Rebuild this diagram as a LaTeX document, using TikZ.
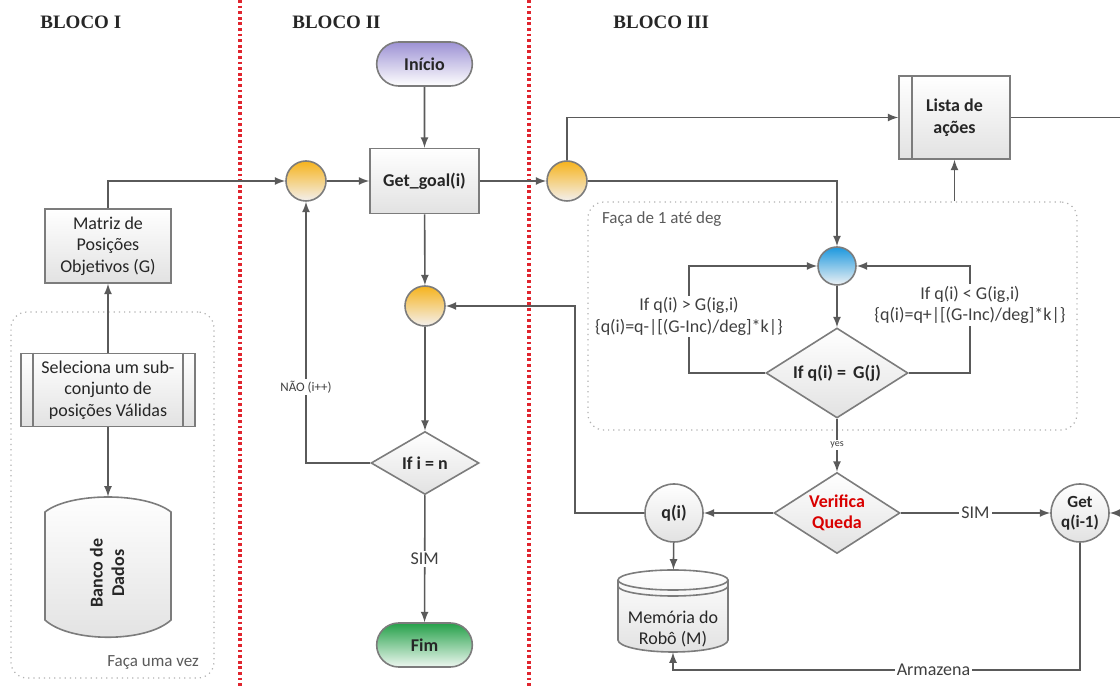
\documentclass[tikz,border=0pt]{standalone}
\usepackage{fontspec}
\setmainfont{Carlito}
\newfontfamily\blocofont{Liberation Serif}
\usepackage{tikz}
\usetikzlibrary{shapes}
\usetikzlibrary{shapes.misc}
\definecolor{linegray}{HTML}{5A5A5A}
\definecolor{bordergray}{HTML}{7C7C7C}
\definecolor{boxgray}{HTML}{E2E2E2}
\definecolor{textdark}{HTML}{262626}
\definecolor{orangetop}{HTML}{F6B31C}
\definecolor{orangebot}{HTML}{F3F0EE}
\definecolor{bluetop}{HTML}{1C98DE}
\definecolor{bluebot}{HTML}{EDF1F4}
\definecolor{inicioc}{HTML}{9D92D4}
\definecolor{fimc}{HTML}{25A049}
\definecolor{blocored}{HTML}{E0252E}
\definecolor{loopgray}{HTML}{B0B0B0}

\begin{document}
\begin{tikzpicture}[x=0.5pt, y=-0.5pt, font=\fontsize{9}{10.75}\selectfont, text=textdark,
  box/.style={draw=bordergray, line width=0.8pt, top color=white, bottom color=boxgray, align=center, inner sep=1pt},
  term/.style={rounded rectangle, draw=bordergray, line width=0.8pt, minimum width=54.5pt, minimum height=22pt, font=\fontsize{9}{10.75}\selectfont\bfseries},
  junc/.style={circle, draw=bordergray, line width=0.8pt, minimum size=20pt, inner sep=0pt},
  dec/.style={diamond, draw=bordergray, line width=0.8pt, top color=white, bottom color=boxgray, aspect=1.6, inner sep=0pt, align=center, font=\fontsize{9}{10.75}\selectfont\bfseries},
  conn/.style={-latex, draw=linegray, line width=0.8pt},
  lbl/.style={fill=white, inner sep=1pt, text=linegray!70!black},
  loopbox/.style={draw=loopgray, dotted, line width=0.6pt, rounded corners=8pt},
  bloco/.style={font=\blocofont\fontsize{9.5}{11}\selectfont\bfseries, anchor=west, inner sep=0pt}]

  \useasboundingbox (0,0) rectangle (1120,689);

  \foreach \x in {240, 529}
  {
  \draw[blocored, line width=1.6pt, dash pattern=on 1.4pt off 1.4pt] (\x,0) -- (\x,689);
  }
  \node[bloco] at (40,22) (bloco1) {BLOCO I};
  \node[bloco] at (292,22) (bloco2) {BLOCO II};
  \node[bloco] at (613,22) (bloco3) {BLOCO III};

  \node[loopbox, minimum width=101.5pt, minimum height=183pt] at (112.5,495) (umavez) {};
  \node[anchor=east, font=\fontsize{8.5}{10}\selectfont, text=linegray] at (206,662) (umavezlbl) {Faça uma vez};
  \node[loopbox, minimum width=244.5pt, minimum height=114pt] at (832.5,316) (deg) {};
  \node[anchor=west, font=\fontsize{8.5}{10}\selectfont, text=linegray] at (595,219) (deglbl) {Faça de 1 até deg};

  \node[box, minimum width=63pt, minimum height=37pt] at (108,246) (matriz) {Matriz de\\Posições\\Objetivos (G)};
  \node[box, minimum width=87pt, minimum height=36.5pt] at (108,390) (sel) {Seleciona um sub-\\conjunto de\\posições Válidas};
  \draw[bordergray, line width=0.8pt] ([xshift=6.5pt]sel.north west) -- ([xshift=6.5pt]sel.south west)
    ([xshift=-6.5pt]sel.north east) -- ([xshift=-6.5pt]sel.south east);
  \node[minimum width=63pt, minimum height=70pt] at (108,567) (banco) {};
  \draw[draw=bordergray, line width=0.8pt, top color=white, bottom color=boxgray]
    (45,512) .. controls (70,492) and (146,492) .. (171,512) -- (171,620)
    .. controls (146,643) and (70,643) .. (45,620) -- cycle;
  \node[rotate=90, align=center, font=\fontsize{9}{10.75}\selectfont\bfseries] at (107,573) (bancotxt) {Banco de\\Dados};

  \node[term, top color=inicioc, bottom color=white] at (424.5,64) (inicio) {Início};
  \node[box, minimum width=54.5pt, minimum height=32.5pt, font=\fontsize{9}{10.75}\selectfont\bfseries] at (424.5,181) (goal) {Get\_goal(i)};
  \node[junc, top color=orangetop, bottom color=orangebot] at (306,181) (j1) {};
  \node[junc, top color=orangetop, bottom color=orangebot] at (425,306) (j2) {};
  \node[junc, top color=orangetop, bottom color=orangebot] at (567,181) (j3) {};
  \node[dec, minimum width=54pt, minimum height=31.5pt] at (425,463) (ifn) {If i = n};
  \node[term, top color=fimc, bottom color=white!92!fimc] at (424.5,645) (fim) {Fim};

  \node[box, minimum width=55.5pt, minimum height=41.5pt, font=\fontsize{9}{10.75}\selectfont\bfseries] at (954.5,117.5) (lista) {Lista de\\ações};
  \draw[bordergray, line width=0.8pt] ([xshift=7pt]lista.north west) -- ([xshift=7pt]lista.south west);
  \node[junc, minimum size=19pt, top color=bluetop, bottom color=bluebot] at (837,266) (blue) {};
  \node[dec, minimum width=71pt, minimum height=45pt] at (837,373) (ifq) {If q(i) =\ \,G(j)};
  \node[dec, minimum width=63pt, minimum height=40.5pt, text=red!85!black] at (837,513) (queda) {Verifica\\Queda};
  \node[junc, minimum size=29pt, top color=white, bottom color=boxgray, font=\fontsize{9}{10.75}\selectfont\bfseries] at (674,513) (qi) {q(i)};
  \node[junc, minimum size=29pt, top color=white, bottom color=boxgray, align=center, font=\fontsize{8.5}{10}\selectfont\bfseries] at (1080,513) (getq) {Get\\q(i-1)};

  \node[minimum width=55pt, minimum height=41pt] at (673,611) (mem) {};
  \draw[draw=bordergray, line width=0.8pt, top color=white, bottom color=boxgray]
    (618,580) .. controls (618,574.5) and (642.6,570) .. (673,570) .. controls (703.4,570) and (728,574.5) .. (728,580)
    -- (728,640) .. controls (728,646.6) and (703.4,652) .. (673,652) .. controls (642.6,652) and (618,646.6) .. (618,640) -- cycle;
  \foreach \d in {0, 6}
  {
  \draw[bordergray, line width=0.8pt] (618,580+\d) .. controls (618,585.5+\d) and (642.6,590+\d) .. (673,590+\d)
    .. controls (703.4,590+\d) and (728,585.5+\d) .. (728,580+\d);
  }
  \node[align=center] at (673,629) (memtxt) {Memória do\\Robô (M)};

  \coordinate (gtcorner) at (689,266);
  \coordinate (ltcorner) at (970,266);
  \coordinate (back) at (575,306);
  \coordinate (store) at (673,670);
  \coordinate (outside) at (1135,513);

  \draw[conn] (matriz.north) |- (j1);
  \draw[conn] (sel) -- (matriz);
  \draw[conn] (sel) -- (banco);
  \draw[conn] (j1) -- (goal);
  \draw[conn] (inicio) -- (goal);
  \draw[conn] (goal) -- (j2);
  \draw[conn] (j2) -- (ifn);
  \draw[conn] (ifn) -- node[lbl] {SIM} (fim);
  \draw[conn] (ifn.west) -| node[lbl, pos=0.645, font=\fontsize{6.5}{8}\selectfont] {NÃO (i++)} (j1);
  \draw[conn] (goal) -- (j3);
  \draw[conn] (j3.north) |- (lista);
  \draw[conn] (j3.east) -| (blue);
  \draw[conn] (deg.north -| lista) -- (lista);
  \draw[conn] (blue) -- (ifq);
  \draw[conn] (ifq.west) -| node[lbl, pos=0.764, align=center] {If q(i) > G(ig,i)\\\{q(i)=q-|[(G-Inc)/deg]*k|\}} (gtcorner) -- (blue.west);
  \draw[conn] (ifq.east) -| node[lbl, pos=0.818, align=center] {If q(i) < G(ig,i)\\\{q(i)=q+|[(G-Inc)/deg]*k|\}} (ltcorner) -- (blue.east);
  \draw[conn] (ifq) -- node[lbl, font=\fontsize{5}{6}\selectfont] {yes} (queda);
  \draw[conn] (queda) -- (qi);
  \draw[conn] (queda) -- node[lbl] {SIM} (getq);
  \draw[conn] (qi.west) -| (back) -- (j2);
  \draw[conn] (qi) -- (mem);
  \draw[conn] (getq.south) |- node[lbl, pos=0.68] {Armazena} (store) -- (mem.south);
  \draw[conn] (lista.east) -| (outside) -- (getq.east);
\end{tikzpicture}
\end{document}
